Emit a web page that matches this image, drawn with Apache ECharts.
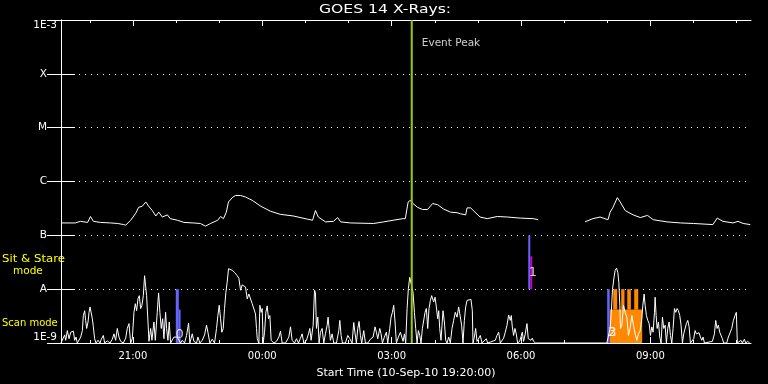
<!DOCTYPE html>
<html><head><meta charset="utf-8">
<script src="https://cdn.jsdelivr.net/npm/echarts@6/dist/echarts.min.js"></script>
<style>html,body{margin:0;padding:0;background:#000}#c{width:768px;height:384px}</style>
</head><body><div id="c"></div><script>
// ---- data (x: minutes since start 10-Sep-10 19:20:00, y: log10 flux W/m^2) ----
const titleText = 'GOES 14 X-Rays:';
const xAxisName = 'Start Time (10-Sep-10 19:20:00)';
const yLevels = [-9, -8, -7, -6, -5, -4, -3];
const yLabels = ['1E-9', 'A', 'B', 'C', 'M', 'X', '1E-3'];
const xLabelMinutes = [100, 280, 460, 640, 820];
const xLabels = ['21:00', '00:00', '03:00', '06:00', '09:00'];
const hourTickMinutes = [40,100,160,220,280,340,400,460,520,580,640,700,760,820,880,940];
const majorTickMinutes = [100, 280, 460, 640, 820];
const eventPeakMinute = 488;
const eventPeakLabel = 'Event Peak';
const eventPeakLabelPos = [502, -3.44];

const fluxLong = [[0,-6.77],[20,-6.77],[27,-6.74],[37,-6.76],[41,-6.65],[45,-6.74],[55,-6.76],[69,-6.77],[79,-6.78],[87,-6.80],[90,-6.81],[97,-6.72],[104,-6.59],[108,-6.48],[113,-6.46],[118,-6.38],[122,-6.46],[127,-6.54],[132,-6.64],[136,-6.57],[141,-6.66],[148,-6.62],[152,-6.69],[162,-6.72],[171,-6.76],[184,-6.77],[194,-6.78],[201,-6.83],[208,-6.78],[218,-6.72],[222,-6.65],[226,-6.69],[230,-6.57],[233,-6.38],[239,-6.29],[243,-6.26],[250,-6.26],[257,-6.29],[266,-6.35],[278,-6.46],[291,-6.55],[305,-6.61],[323,-6.64],[343,-6.70],[350,-6.72],[354,-6.54],[358,-6.66],[368,-6.75],[379,-6.74],[385,-6.67],[389,-6.75],[403,-6.77],[435,-6.78],[449,-6.75],[462,-6.72],[476,-6.69],[479,-6.69],[483,-6.38],[486,-6.35],[489,-6.40],[496,-6.48],[503,-6.52],[510,-6.52],[517,-6.41],[524,-6.43],[532,-6.51],[542,-6.57],[551,-6.58],[556,-6.60],[563,-6.62],[565,-6.49],[570,-6.49],[576,-6.57],[583,-6.66],[593,-6.69],[607,-6.65],[621,-6.66],[639,-6.68],[657,-6.69],[664,-6.71],[700,'-'],[729,-6.75],[740,-6.69],[750,-6.66],[761,-6.71],[764,-6.57],[768,-6.48],[774,-6.30],[778,-6.38],[785,-6.54],[796,-6.62],[806,-6.67],[816,-6.63],[824,-6.71],[843,-6.75],[862,-6.77],[880,-6.78],[907,-6.80],[913,-6.68],[921,-6.74],[935,-6.77],[942,-6.74],[949,-6.78],[959,-6.80]];

const fluxScan = [[0,-9],[2.4,-9],[5.1,-8.85],[6.5,-8.95],[8.8,-8.77],[11.2,-8.92],[13.5,-8.80],[15.8,-8.83],[17.2,-8.78],[19.0,-8.95],[20.9,-8.89],[22.7,-9],[25.1,-8.97],[27.4,-8.89],[29.7,-8.77],[31.1,-8.49],[32.9,-8.40],[34.3,-8.58],[35.7,-8.73],[37.6,-8.61],[39.0,-8.43],[40.4,-8.33],[42.2,-8.30],[43.6,-8.55],[45.0,-8.70],[46.8,-8.92],[48.7,-9],[51.5,-8.95],[54.2,-9],[56.1,-8.93],[58.9,-8.86],[60.7,-9],[64.4,-8.96],[68.2,-9],[71.4,-8.93],[73.7,-8.83],[76.0,-8.95],[78.3,-8.73],[80.7,-8.89],[83.0,-8.97],[86.7,-9],[90.0,-8.91],[92.2,-8.73],[94.6,-8.64],[96.9,-9],[99.2,-8.92],[101.5,-8.43],[103.4,-8.27],[105.2,-8.40],[107.1,-8.18],[108.9,-8.12],[110.8,-8.36],[112.6,-8.30],[114.5,-8.12],[116.3,-7.75],[118.2,-7.76],[119.1,-8.12],[121.0,-8.61],[122.4,-8.97],[124.7,-8.73],[126.5,-8.95],[129.3,-8.61],[131.2,-8.95],[133.9,-8.43],[135.8,-8.07],[137.6,-8.43],[139.5,-8.73],[141.4,-8.55],[143.2,-8.92],[145.5,-8.43],[146.9,-8.73],[148.8,-8.95],[150.6,-8.61],[152.5,-9],[154.8,-8.97],[157.1,-8.89],[161.7,-8.89],[166.4,-9],[168.7,-8.95],[171.9,-9],[174.7,-8.86],[177.5,-8.63],[179.3,-9],[182.6,-8.83],[184.9,-8.97],[188.6,-9],[190.5,-8.89],[193.2,-9],[196.5,-8.95],[199.7,-8.85],[202.5,-8.67],[204.4,-8.80],[207.1,-9],[210.4,-8.93],[213.6,-9],[216.4,-8.73],[218.3,-8.49],[220.1,-8.30],[222.0,-8.55],[223.8,-8.80],[225.7,-8.73],[227.5,-8.36],[229.4,-8.06],[231.2,-7.87],[233.1,-7.62],[234.9,-7.59],[238.2,-7.65],[241.4,-7.69],[245.2,-7.75],[247.5,-7.80],[249.8,-8.02],[252.1,-7.92],[254.4,-7.94],[256.7,-7.96],[259.1,-8.18],[261.4,-8.09],[263.7,-8.12],[266.0,-8.27],[268.3,-8.30],[270.6,-8.46],[272.0,-8.73],[273.0,-8.92],[275.3,-9],[276.7,-8.30],[278.5,-8.43],[279.9,-8.36],[281.3,-9],[283.2,-8.80],[285.0,-8.43],[286.9,-8.31],[288.7,-8.55],[290.6,-8.49],[292.4,-8.95],[294.3,-8.92],[296.1,-9],[299.8,-8.97],[303.1,-8.89],[305.4,-8.78],[307.7,-9],[312.3,-9],[317.0,-8.89],[319.3,-8.70],[321.6,-8.95],[324.9,-9],[327.6,-8.92],[330.4,-9],[333.2,-8.91],[335.5,-8.83],[337.8,-9],[341.5,-8.95],[344.3,-8.83],[346.2,-8.73],[348.0,-8.95],[350.8,-8.67],[352.7,-8.02],[354.0,-8.06],[355.4,-8.73],[357.3,-8.52],[359.1,-9],[361.0,-8.80],[363.3,-8.73],[365.6,-9],[367.9,-8.83],[370.3,-8.67],[371.6,-8.52],[373.0,-8.73],[374.9,-8.95],[377.2,-8.83],[379.5,-9],[383.2,-9],[386.5,-8.77],[387.9,-8.58],[389.7,-8.86],[391.6,-9],[395.7,-9],[399.0,-8.86],[401.8,-8.92],[405.0,-9],[407.3,-8.62],[409.2,-8.83],[411.0,-9],[412.9,-8.73],[414.7,-8.60],[416.6,-8.86],[418.4,-9],[421.2,-8.77],[423.5,-9],[426.8,-9],[430.5,-8.93],[434.2,-8.89],[437.0,-8.70],[438.8,-8.80],[440.7,-8.92],[443.5,-8.73],[445.3,-8.83],[447.2,-9],[449.9,-8.89],[452.7,-8.80],[454.6,-9],[457.4,-8.73],[459.2,-8.52],[461.1,-8.43],[462.9,-8.30],[464.8,-8.61],[466.6,-9],[469.4,-8.89],[472.2,-8.80],[474.5,-8.83],[475.9,-8.97],[477.8,-8.83],[479.6,-9],[481.5,-8.36],[483.3,-7.99],[485.2,-7.78],[487.0,-7.81],[489.8,-8.06],[491.7,-8.43],[493.5,-8.73],[495.4,-9],[497.2,-8.77],[499.1,-8.86],[500.9,-9],[502.8,-8.73],[504.6,-8.70],[506.5,-8.43],[508.3,-8.36],[510.2,-8.73],[512.0,-8.36],[513.9,-8.21],[515.7,-8.12],[517.1,-8.10],[518.5,-8.24],[520.4,-8.15],[522.2,-8.33],[524.1,-8.55],[525.5,-8.40],[526.9,-8.73],[528.7,-8.95],[530.1,-8.67],[531.5,-8.40],[533.4,-8.61],[535.2,-8.95],[537.1,-9],[539.4,-8.89],[541.7,-9],[544.0,-8.73],[546.3,-8.58],[548.6,-8.43],[551.0,-8.52],[553.3,-8.33],[555.6,-8.30],[557.4,-8.67],[559.3,-9],[561.2,-8.58],[563.0,-8.33],[564.9,-8.21],[567.2,-8.18],[570.4,-8.19],[572.3,-8.40],[573.2,-9],[575.1,-8.89],[576.9,-8.73],[578.8,-8.97],[581.1,-9],[583.4,-8.86],[585.7,-9],[591.7,-8.92],[593.6,-9],[604.2,-8.95],[606.6,-8.86],[608.9,-8.80],[611.2,-9],[615.8,-8.91],[618.1,-8.80],[620.5,-8.67],[622.8,-8.48],[625.1,-8.58],[626.5,-8.49],[627.9,-8.70],[629.7,-8.86],[631.6,-8.73],[633.4,-8.83],[635.3,-9],[638.1,-8.97],[639.9,-8.89],[641.8,-8.80],[643.6,-8.97],[645.9,-8.83],[648.3,-8.64],[650.1,-8.92],[652.0,-8.89],[653.8,-8.95],[655.7,-8.91],[657.5,-8.97],[660.3,-9],[759.4,-9],[761.7,-8.97],[764.0,-8.73],[765.4,-8.49],[767.3,-8.01],[769.1,-7.81],[771.0,-7.65],[772.9,-7.61],[774.7,-7.69],[776.1,-7.87],[777.5,-8.30],[778.4,-8.73],[780.3,-8.67],[782.6,-8.30],[784.9,-8.43],[787.2,-8.52],[789.5,-8.86],[791.8,-8.73],[794.2,-8.49],[796.5,-8.67],[798.8,-8.83],[801.1,-8.95],[803.4,-8.83],[805.7,-8.78],[808.1,-8.55],[809.5,-8.30],[811.3,-8.09],[812.7,-8.30],[814.5,-8.49],[816.4,-8.58],[818.3,-8.64],[820.1,-8.86],[822.0,-8.70],[823.8,-8.80],[825.7,-8.43],[826.6,-8.15],[828.0,-8.49],[829.4,-8.73],[831.2,-8.61],[833.1,-8.89],[834.9,-9],[836.8,-8.52],[838.6,-8.73],[840.5,-8.67],[842.3,-9],[844.2,-8.73],[846.0,-8.61],[847.9,-8.86],[849.8,-9],[851.6,-8.73],[853.5,-8.36],[855.3,-8.43],[857.2,-8.36],[859.0,-8.40],[860.9,-8.49],[862.7,-8.67],[864.6,-9],[866.4,-8.83],[868.3,-8.80],[870.1,-8.64],[872.0,-8.58],[873.9,-8.70],[875.7,-9],[880.3,-8.92],[882.2,-8.77],[884.0,-8.83],[885.9,-8.86],[887.7,-8.81],[889.6,-8.89],[891.5,-8.95],[893.3,-8.89],[895.2,-9],[906.3,-8.97],[909.1,-8.83],[910.9,-8.58],[912.8,-8.73],[914.6,-8.67],[916.5,-8.80],[918.3,-8.83],[920.2,-8.92],[922.0,-9],[926.2,-9],[928.5,-8.89],[930.8,-8.92],[933.2,-8.73],[935.5,-8.58],[937.8,-8.49],[939.6,-8.43],[941.0,-9],[946.1,-8.95],[948.0,-9],[950.8,-8.93],[952.6,-9],[955.4,-8.97],[958.2,-9]];

// observation intervals: [startMin, endMin, lowLog, highLog]
const blueBars = [[159.7,163.9,-9,-8],[163.9,166.4,-9,-8.38],[650.1,652.9,-8,-7],[759.9,763.4,-9,-8]];
const magentaBars = [[652.9,655.7,-8,-7.39]];
const orangeBars = [[763.4,808.6,-9,-8.38],[768.3,773.9,-8.38,-8],[779.4,784.0,-8.38,-8],[787.8,792.9,-8.38,-8],[797.5,803.1,-8.38,-8]];
const eventNumbers = [[165,-8.85,'0'],[656.4,-7.69,'1'],[767,-8.81,'2'],[767,-8.81,'3']];
const modeLabels = ['Sit & Stare', 'mode', 'Scan mode'];

// ---- chart ----
const FONT = 'DejaVu Sans';
function rectRender(color) {
  return function (params, api) {
    const a = api.coord([api.value(0), api.value(3)]);
    const b = api.coord([api.value(1), api.value(2)]);
    return { type: 'rect', shape: { x: a[0], y: a[1], width: b[0] - a[0], height: b[1] - a[1] }, style: { fill: color } };
  };
}
const xBase = { type: 'value', min: 0, max: 960, gridIndex: 0, splitLine: { show: false } };
const chart = echarts.init(document.getElementById('c'), null, { renderer: 'canvas' });
chart.setOption({
  backgroundColor: '#000',
  animation: false,
  title: { show: false, text: titleText },
  grid: { left: 61, right: 17, top: 20, bottom: 41 },
  xAxis: [
    Object.assign({}, xBase, {
      position: 'bottom',
      axisLine: { show: true, lineStyle: { color: '#fff', width: 1 } },
      axisTick: { show: true, inside: true, length: 3, customValues: hourTickMinutes, lineStyle: { color: '#fff' } },
      axisLabel: { show: true, customValues: xLabelMinutes, color: '#fff', fontSize: 10, fontFamily: FONT, margin: 8,
        formatter: v => xLabels[xLabelMinutes.indexOf(Math.round(v))] || '' },
      name: xAxisName, nameLocation: 'middle', nameGap: 25,
      nameTextStyle: { color: '#fff', fontSize: 11, fontFamily: FONT }
    }),
    Object.assign({}, xBase, {
      position: 'bottom', axisLine: { show: false },
      axisTick: { show: true, inside: true, length: 6, customValues: majorTickMinutes, lineStyle: { color: '#fff' } },
      axisLabel: { show: false }
    }),
    Object.assign({}, xBase, {
      position: 'top', axisLine: { show: true, lineStyle: { color: '#fff', width: 1 } },
      axisTick: { show: true, inside: true, length: 3, customValues: hourTickMinutes, lineStyle: { color: '#fff' } },
      axisLabel: { show: false }
    }),
    Object.assign({}, xBase, {
      position: 'top', axisLine: { show: false },
      axisTick: { show: true, inside: true, length: 6, customValues: majorTickMinutes, lineStyle: { color: '#fff' } },
      axisLabel: { show: false }
    })
  ],
  yAxis: [
    { type: 'value', min: -9, max: -3, interval: 1, position: 'left',
      axisLine: { show: true, lineStyle: { color: '#fff', width: 1 } },
      axisTick: { show: true, inside: true, length: 14, lineStyle: { color: '#fff' } },
      axisLabel: { show: true, color: '#fff', fontSize: 10.5, fontFamily: FONT, margin: 4,
        verticalAlignMinLabel: 'bottom', verticalAlignMaxLabel: 'top',
        rich: { L: { color: '#fff', fontSize: 10.5, fontFamily: FONT, padding: [0, 10, 0, 0] } },
        formatter: v => {
          const s = yLabels[yLevels.indexOf(Math.round(v))] || '';
          return s.length === 1 ? '{L|' + s + '}' : s;
        } },
      splitLine: { show: true, lineStyle: { color: '#fff', width: 1, type: [1, 5] } } },
    { type: 'value', min: -9, max: -3, interval: 1, position: 'right',
      axisLine: { show: true, lineStyle: { color: '#fff', width: 1 } },
      axisTick: { show: true, inside: true, length: 14, lineStyle: { color: '#fff' } },
      axisLabel: { show: false }, splitLine: { show: false } }
  ],
  graphic: [
    { type: 'text', x: 319, y: 3, scaleX: 1.2, style: { text: titleText, fill: '#fff', font: '13px "DejaVu Sans"' } },
    { type: 'text', x: 2, y: 254, scaleX: 1.12, style: { text: modeLabels[0], fill: '#ffff00', font: '10.5px "DejaVu Sans"' } },
    { type: 'text', x: 13, y: 266, style: { text: modeLabels[1], fill: '#ffff00', font: '10.5px "DejaVu Sans"' } },
    { type: 'text', x: 2, y: 318, scaleX: 0.95, style: { text: modeLabels[2], fill: '#ffff00', font: '10.5px "DejaVu Sans"' } }
  ],
  series: [
    { type: 'custom', renderItem: rectRender('#ff8800'), data: orangeBars, encode: { x: [0, 1], y: [2, 3] }, z: 1, silent: true },
    { type: 'custom', renderItem: rectRender('#6464ff'), data: blueBars, encode: { x: [0, 1], y: [2, 3] }, z: 1, silent: true },
    { type: 'custom', renderItem: rectRender('#c800c8'), data: magentaBars, encode: { x: [0, 1], y: [2, 3] }, z: 1, silent: true },
    { type: 'line', data: fluxScan, showSymbol: false, lineStyle: { color: '#fff', width: 1 }, z: 2, silent: true },
    { type: 'line', data: fluxLong, showSymbol: false, connectNulls: false, lineStyle: { color: '#fff', width: 1 }, z: 2, silent: true },
    { type: 'line', data: [[eventPeakMinute, -9], [eventPeakMinute, -3]], showSymbol: false, lineStyle: { color: '#9acd00', width: 2 }, z: 3, silent: true },
    { type: 'scatter', symbolSize: 0, z: 4, silent: true,
      data: [[eventPeakLabelPos[0], eventPeakLabelPos[1], eventPeakLabel]],
      label: { show: true, position: 'right', distance: 0, formatter: p => p.value[2], color: '#fff', fontSize: 10.5, fontFamily: FONT } },
    { type: 'scatter', symbolSize: 0, z: 4, silent: true, data: eventNumbers,
      label: { show: true, position: 'inside', formatter: p => p.value[2], color: '#fff', fontSize: 13, fontFamily: FONT } }
  ]
});
</script></body></html>
